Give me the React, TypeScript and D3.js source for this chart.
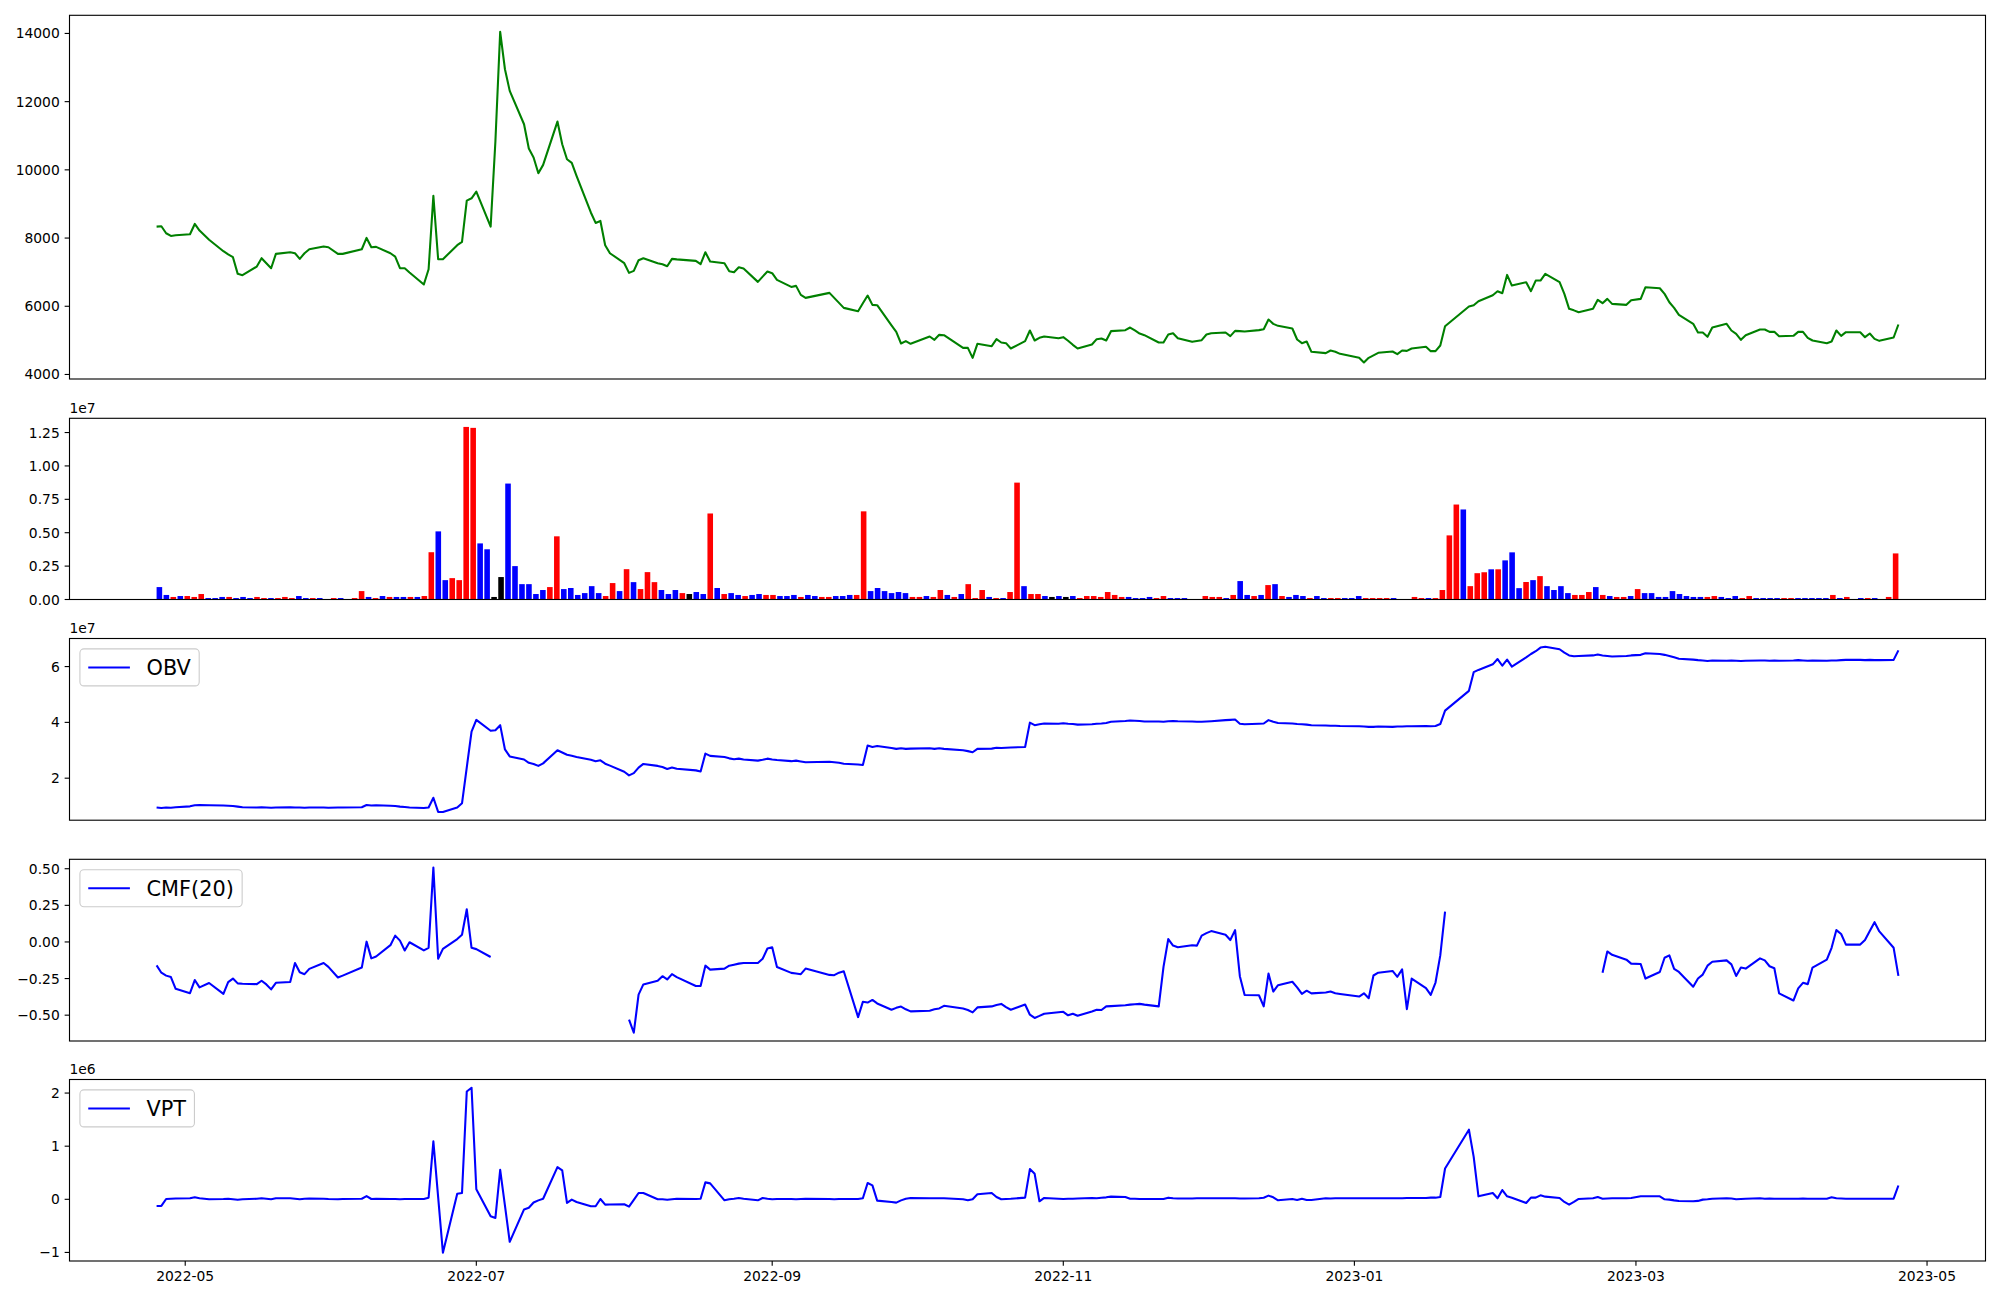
import React from "react";
import * as d3 from "d3";

// ---------------- DATA ----------------
// KRX non-trading weekdays in the range
const HOLIDAYS = [
  "2022-05-05", "2022-06-01", "2022-06-06", "2022-08-15", "2022-09-09", "2022-09-12",
  "2022-10-03", "2022-10-10", "2022-12-30", "2023-01-23", "2023-01-24", "2023-03-01",
];
const FIRST_DAY = "2022-04-25";
const LAST_DAY = "2023-04-25";

// Close price, one value per trading day
const PRICE = [
  8336, 8346, 8141, 8063, 8080,
  8112, 8414, 8219, 7950,
  7614, 7520, 7438, 6950, 6911,
  7165, 7409, 7260, 7116, 7536,
  7585, 7555, 7389, 7555, 7672,
  7750, 7731, 7536, 7536,
  7672, 8004, 7731, 7741,
  7555, 7458, 7116, 7116, 6990,
  6638, 7087, 9236, 7380, 7380,
  7790, 7887, 9098, 9166, 9361,
  8336, 10840, 14047, 12950, 12315,
  11338, 10625, 10361, 9902, 10146,
  11416, 10752, 10312, 10205, 9824,
  8750, 8444, 8502, 7790, 7555,
  7262, 6979, 7038, 7350, 7409,
  7262, 7233, 7175, 7390, 7375,
  7331, 7233, 7584, 7311,
  7262, 7027, 6998, 7145, 7105,
  6715, 6870, 7018, 6969, 6774,
  6568, 6598, 6334, 6246,
  6393, 6246, 6100, 5953,
  5856, 6090, 6315, 6041, 6031,
  5440, 5250, 4908, 4977, 4899,
  5113, 5016, 5162, 5152,
  4781, 4781, 4488, 4899,
  4830, 5035, 4938, 4918, 4762,
  4977, 5289, 4996, 5074, 5113,
  5064, 5094, 4990, 4870, 4762,
  4879, 5035, 5055, 4996, 5270,
  5299, 5377, 5290, 5200, 5152,
  4938, 4938, 5172, 5211, 5064,
  4957, 4980, 5006, 5172, 5211,
  5231, 5123, 5279, 5270, 5260,
  5300, 5328, 5611, 5484, 5426,
  5348, 5025, 4918, 4967, 4664,
  4625, 4703, 4664, 4605,
  4488, 4352, 4488, 4560, 4635,
  4674, 4596, 4703, 4693, 4762,
  4811, 4684, 4684, 4850, 5416,
  5992, 6031, 6149,
  6324, 6442, 6383, 6920, 6607,
  6705, 6442, 6754, 6754, 6949,
  6705, 6363, 5924, 5880, 5826,
  5924, 6188, 6090, 6217, 6070,
  6041, 6178, 6217, 6559,
  6529, 6363, 6119, 5953, 5748,
  5484, 5230, 5230, 5104, 5377,
  5484, 5289, 5191, 5016, 5152,
  5318, 5318, 5250, 5250, 5123,
  5133, 5250, 5250, 5074, 4996,
  4918, 4967, 5289, 5133, 5240,
  5240, 5094, 5201, 5045, 4986,
  5084, 5465,
];

// Volume in millions of shares
const VOLUME_M = [
  0.93, 0.34, 0.19, 0.26, 0.26,
  0.19, 0.41, 0.11, 0.11,
  0.19, 0.19, 0.11, 0.19, 0.11,
  0.19, 0.11, 0.11, 0.11, 0.19,
  0.11, 0.26, 0.11, 0.11, 0.11,
  0.03, 0.11, 0.11, 0.03,
  0.11, 0.63, 0.19, 0.11,
  0.26, 0.19, 0.19, 0.19, 0.19,
  0.19, 0.26, 3.54, 5.10, 1.45,
  1.60, 1.45, 12.92, 12.85, 4.20,
  3.76, 0.19, 1.68, 8.68, 2.50,
  1.15, 1.15, 0.41, 0.71, 0.93,
  4.73, 0.78, 0.86, 0.34, 0.48,
  1.00, 0.48, 0.26, 1.23, 0.63,
  2.27, 1.30, 0.78, 2.05, 1.30,
  0.71, 0.41, 0.71, 0.48, 0.41,
  0.56, 0.41, 6.44, 0.86,
  0.41, 0.48, 0.34, 0.26, 0.34,
  0.41, 0.34, 0.34, 0.26, 0.26,
  0.34, 0.19, 0.34, 0.26,
  0.19, 0.19, 0.26, 0.26,
  0.34, 0.34, 6.60, 0.63, 0.86,
  0.63, 0.48, 0.56, 0.48, 0.19,
  0.19, 0.26, 0.19, 0.71,
  0.34, 0.19, 0.41, 1.15,
  0.11, 0.71, 0.19, 0.11, 0.11,
  0.56, 8.75, 1.00, 0.41, 0.41,
  0.26, 0.19, 0.26, 0.19, 0.26,
  0.11, 0.26, 0.26, 0.19, 0.56,
  0.34, 0.19, 0.19, 0.11, 0.11,
  0.19, 0.11, 0.26, 0.11, 0.11,
  0.11, 0.03, 0.03, 0.26, 0.19,
  0.19, 0.11, 0.34, 1.38, 0.34,
  0.26, 0.34, 1.08, 1.15, 0.26,
  0.19, 0.34, 0.26, 0.11, 0.26,
  0.11, 0.11, 0.11, 0.11,
  0.11, 0.26, 0.11, 0.11, 0.11,
  0.11, 0.11, 0.02, 0.02, 0.19,
  0.11, 0.11, 0.11, 0.71, 4.80,
  7.11, 6.74, 1.00,
  1.97, 2.04, 2.26, 2.26, 2.93,
  3.53, 0.85, 1.31, 1.45, 1.75,
  1.00, 0.71, 1.00, 0.48, 0.34,
  0.34, 0.56, 0.93, 0.34, 0.26,
  0.19, 0.19, 0.26, 0.78,
  0.48, 0.48, 0.19, 0.19, 0.63,
  0.41, 0.26, 0.19, 0.19, 0.19,
  0.26, 0.19, 0.11, 0.26, 0.11,
  0.26, 0.11, 0.11, 0.11, 0.11,
  0.11, 0.11, 0.11, 0.11, 0.11,
  0.11, 0.11, 0.34, 0.11, 0.19,
  0.03, 0.11, 0.11, 0.11, 0.03,
  0.19, 3.45,
];

// Candle direction per day: R = up, B = down, K = unchanged
const BAR_DIR = (
  "BBRBR RRBB BRBBB RRBRR RBBRB BRBR RRBR BRBBR BRRBB RRRRB BKKBB BBBBR RBBBB BBRRB " +
  "RBRRR BBBRK BBRB RBBRB BRRBB BRBB RRBB BRRBB BBBBR RBRR BRBR RRBRB RRBRR BKBKB " +
  "RRRRR RRBBB BRRBB BBRRR RBRBB RBRBR BBBRB BRRB BBRRR RBBRR RBRRR RBR RRBRB BBRBR " +
  "BBBBR RRBRB RRBR BBBBB BBBBR RBBBR RBBBB RRBBB BBRBR RBRBB RR"
).replace(/ /g, "").split("");

// On-balance volume (×1e7)
const OBV_E7 = [
  0.95, 0.93, 0.95, 0.94, 0.96,
  0.99, 1.03, 1.04, 1.03,
  1.02, 1.01, 1.00, 0.98, 0.96,
  0.95, 0.96, 0.95, 0.94, 0.95,
  0.96, 0.95, 0.95, 0.94, 0.95,
  0.95, 0.94, 0.95, 0.95,
  0.96, 1.04, 1.02, 1.03,
  1.01, 1.00, 0.98, 0.97, 0.95,
  0.93, 0.95, 1.30, 0.79, 0.79,
  0.95, 1.10, 2.39, 3.67, 4.09,
  3.70, 3.72, 3.90, 3.03, 2.78,
  2.67, 2.55, 2.51, 2.44, 2.53,
  3.00, 2.92, 2.84, 2.80, 2.76,
  2.66, 2.61, 2.64, 2.52, 2.45,
  2.23, 2.10, 2.18, 2.38, 2.51,
  2.44, 2.40, 2.33, 2.38, 2.34,
  2.28, 2.24, 2.88, 2.80,
  2.76, 2.71, 2.68, 2.70, 2.67,
  2.63, 2.66, 2.70, 2.67, 2.65,
  2.61, 2.63, 2.60, 2.57,
  2.59, 2.57, 2.55, 2.52,
  2.49, 2.47, 3.17, 3.12, 3.15,
  3.08, 3.05, 3.07, 3.05, 3.06,
  3.07, 3.05, 3.07, 3.05,
  3.00, 2.97, 2.93, 3.05,
  3.06, 3.09, 3.08, 3.09, 3.10,
  3.12, 3.99, 3.90, 3.93, 3.96,
  3.95, 3.97, 3.95, 3.94, 3.92,
  3.93, 3.95, 3.96, 3.98, 4.02,
  4.05, 4.07, 4.06, 4.05, 4.03,
  4.03, 4.02, 4.04, 4.05, 4.04,
  4.03, 4.02, 4.02, 4.03, 4.04,
  4.08, 4.09, 4.10, 3.95, 3.93,
  3.95, 3.96, 4.08, 4.02, 3.98,
  3.96, 3.94, 3.93, 3.92, 3.90,
  3.89, 3.88, 3.88, 3.87,
  3.86, 3.85, 3.84, 3.84, 3.85,
  3.84, 3.85, 3.85, 3.86, 3.86,
  3.87, 3.86, 3.87, 3.94, 4.42,
  5.13, 5.80, 5.88,
  6.08, 6.27, 6.03, 6.25, 6.00,
  6.33, 6.45, 6.55, 6.68, 6.71,
  6.62, 6.50, 6.40, 6.37, 6.38,
  6.40, 6.43, 6.40, 6.38, 6.36,
  6.38, 6.40, 6.42, 6.48,
  6.45, 6.42, 6.38, 6.33, 6.28,
  6.25, 6.23, 6.22, 6.20, 6.22,
  6.21, 6.22, 6.21, 6.20, 6.21,
  6.22, 6.22, 6.21, 6.22, 6.21,
  6.22, 6.23, 6.22, 6.21, 6.22,
  6.21, 6.22, 6.22, 6.23, 6.24,
  6.24, 6.23, 6.24, 6.23, 6.23,
  6.24, 6.58,
];

// Chaikin money flow, 20 days (null = not defined)
const CMF20 = [
  -0.16, -0.21, -0.23, -0.24, -0.32,
  -0.35, -0.26, -0.31, -0.28,
  -0.355, -0.274, -0.25, -0.283, -0.285,
  -0.288, -0.265, -0.29, -0.324, -0.279,
  -0.274, -0.144, -0.207, -0.22, -0.184,
  -0.144, -0.17, -0.243, -0.23,
  -0.175, 0.002, -0.112, -0.099,
  -0.022, 0.043, 0.009, -0.058, -0.002,
  -0.058, -0.04, 0.508, -0.115, -0.047,
  0.02, 0.049, 0.223, -0.04, -0.049,
  -0.103, null, null, null, null,
  null, null, null, null, null,
  null, null, null, null, null,
  null, null, null, null, null,
  null, -0.53, -0.62, -0.36, -0.29,
  -0.265, -0.234, -0.256, -0.22, -0.24,
  -0.301, -0.301, -0.162, -0.189,
  -0.182, -0.162, -0.155, -0.148, -0.144,
  -0.144, -0.115, -0.045, -0.036, -0.171,
  -0.211, -0.215, -0.22, -0.182,
  -0.225, -0.227, -0.21, -0.2,
  -0.513, -0.409, -0.414, -0.396, -0.42,
  -0.463, -0.45, -0.441, -0.46, -0.474,
  -0.47, -0.46, -0.454, -0.436,
  -0.455, -0.465, -0.481, -0.447,
  -0.44, -0.43, -0.423, -0.445, -0.463,
  -0.427, -0.497, -0.519, -0.505, -0.49,
  -0.48, -0.477, -0.501, -0.49, -0.504,
  -0.475, -0.463, -0.465, -0.44, -0.438,
  -0.432, -0.428, -0.425, -0.423, -0.428,
  -0.44, -0.17, 0.02, -0.025, -0.036,
  -0.022, -0.025, 0.043, 0.06, 0.074,
  0.049, 0.013, 0.081, -0.234, -0.362,
  -0.364, -0.44, -0.216, -0.339, -0.295,
  -0.272, -0.31, -0.355, -0.333, -0.351,
  -0.345, -0.339, -0.35, -0.355,
  -0.373, -0.351, -0.384, -0.229, -0.21,
  -0.198, -0.238, -0.187, -0.459, -0.25,
  -0.315, -0.362, -0.277, -0.092, 0.207,
  null, null, null,
  null, null, null, null, null,
  null, null, null, null, null,
  null, null, null, null, null,
  null, null, -0.211, -0.065, -0.088,
  -0.121, -0.148, -0.151, -0.25,
  -0.205, -0.108, -0.092, -0.184, -0.205,
  -0.306, -0.25, -0.223, -0.162, -0.135,
  -0.126, -0.153, -0.232, -0.175, -0.182,
  -0.112, -0.126, -0.166, -0.18, -0.351,
  -0.4, -0.317, -0.279, -0.288, -0.175,
  -0.121, -0.04, 0.081, 0.054, -0.018,
  -0.018, 0.013, 0.074, 0.135, 0.072,
  -0.04, -0.232,
];

// Volume price trend (×1e6)
const VPT_E6 = [
  -0.125, -0.125, 0.006, 0.01, 0.015,
  0.02, 0.04, 0.02, 0.0,
  0.005, 0.01, 0.0, -0.01, 0.0,
  0.01, 0.02, 0.01, 0.0, 0.02,
  0.02, 0.01, 0.0, 0.01, 0.015,
  0.01, 0.005, 0.0, 0.005,
  0.01, 0.06, 0.006, 0.01,
  0.005, 0.006, 0.0, 0.006, 0.005,
  0.006, 0.03, 1.09, 0.04, -1.006,
  0.106, 0.12, 2.03, 2.1, 0.19,
  -0.32, -0.35, 0.556, -0.12, -0.8,
  -0.19, -0.16, -0.06, -0.02, 0.01,
  0.606, 0.544, -0.069, -0.006, -0.05,
  -0.131, -0.131, 0.006, -0.1, -0.097,
  -0.094, -0.137, -0.01, 0.119, 0.119,
  0.0, 0.0, -0.01, 0.0, 0.01,
  0.006, 0.012, 0.319, 0.3,
  -0.019, 0.0, 0.01, 0.025, 0.01,
  -0.019, 0.025, 0.01, 0.0, 0.006,
  0.006, 0.0, 0.006, 0.01,
  0.006, 0.0, 0.006, 0.006,
  0.006, 0.019, 0.306, 0.262, -0.025,
  -0.05, -0.062, -0.02, 0.01, 0.025,
  0.02, 0.02, 0.019, 0.019,
  0.0, -0.019, 0.0, 0.094,
  0.119, 0.044, 0.0, 0.005, 0.01,
  0.031, 0.569, 0.48, -0.037, 0.025,
  0.01, 0.006, 0.01, 0.012, 0.015,
  0.025, 0.02, 0.03, 0.037, 0.05,
  0.044, 0.012, 0.01, 0.006, 0.006,
  0.006, 0.006, 0.031, 0.02, 0.015,
  0.015, 0.019, 0.019, 0.019, 0.02,
  0.02, 0.019, 0.019, 0.015, 0.015,
  0.019, 0.03, 0.069, 0.037, -0.019,
  0.006, -0.012, 0.012, -0.012, -0.012,
  0.019, 0.015, 0.019, 0.019,
  0.019, 0.019, 0.019, 0.019, 0.019,
  0.019, 0.02, 0.02, 0.025, 0.025,
  0.025, 0.031, 0.031, 0.044, 0.58,
  1.31, 0.8, 0.056,
  0.119, 0.019, 0.175, 0.056, 0.03,
  -0.069, 0.031, 0.031, 0.075, 0.05,
  0.025, -0.05, -0.1, -0.05, 0.006,
  0.019, 0.044, 0.012, 0.015, 0.019,
  0.019, 0.025, 0.056, 0.056,
  0.056, 0.0, -0.006, -0.02, -0.031,
  -0.037, -0.03, -0.006, 0.0, 0.01,
  0.019, 0.015, 0.0, 0.005, 0.01,
  0.019, 0.012, 0.015, 0.012, 0.012,
  0.012, 0.012, 0.015, 0.012, 0.012,
  0.012, 0.037, 0.019, 0.015, 0.012,
  0.012, 0.012, 0.012, 0.012, 0.012,
  0.012, 0.26,
];

const DATE_TICKS = ["2022-05", "2022-07", "2022-09", "2022-11", "2023-01", "2023-03", "2023-05"];
const PRICE_TICKS = [4000, 6000, 8000, 10000, 12000, 14000];
const VOL_TICKS_E7 = [0, 0.25, 0.5, 0.75, 1.0, 1.25];
const OBV_TICKS = [2, 4, 6];
const CMF_TICKS = [-0.5, -0.25, 0, 0.25, 0.5];
const VPT_TICKS = [-1, 0, 1, 2];

// ---------------- LAYOUT ----------------
const FIG_W = 2000;
const FIG_H = 1300;
const AX_L = 69.5;
const AX_R = 1985.5;
const PANELS = [
  { top: 15.3, bottom: 379.0 },
  { top: 418.3, bottom: 599.5 },
  { top: 638.5, bottom: 820.2 },
  { top: 859.3, bottom: 1041.0 },
  { top: 1079.5, bottom: 1261.0 },
];
const FONT = "'DejaVu Sans', sans-serif";
const TICK_FS = 13.89;
const LEG_FS = 20.83;
const TICK_LEN = 4.86;
const TICK_PAD = 4.86;
const SPINE_W = 1.11;
const LINE_W = 2.08;

const fmtDay = d3.utcFormat("%Y-%m-%d");
const parseDay = d3.utcParse("%Y-%m-%d");
const parseMonth = d3.utcParse("%Y-%m");

const ALL_DATES = d3.utcDay
  .range(parseDay(FIRST_DAY) as Date, d3.utcDay.offset(parseDay(LAST_DAY) as Date, 1))
  .filter((d) => {
    const w = d.getUTCDay();
    return w !== 0 && w !== 6 && !HOLIDAYS.includes(fmtDay(d));
  });

const N = Math.min(ALL_DATES.length, PRICE.length);
const DATES = ALL_DATES.slice(0, N);

function paddedExtent(vals: (number | null)[]): [number, number] {
  const v = vals.filter((x) => x != null && !isNaN(x as number)) as number[];
  const lo = d3.min(v) as number;
  const hi = d3.max(v) as number;
  const m = (hi - lo) * 0.05;
  return [lo - m, hi + m];
}

const minus = (s: string) => s.replace("-", "\u2212");

function measure(text: string, size: number): number {
  try {
    const c = document.createElement("canvas").getContext("2d");
    if (c) {
      c.font = `${size}px 'DejaVu Sans'`;
      return c.measureText(text).width;
    }
  } catch (e) {}
  return text.length * size * 0.62;
}

function YTicks({ scale, ticks, fmt }: { scale: any; ticks: number[]; fmt: (v: number) => string }) {
  return (
    <g>
      {ticks.map((t) => {
        const y = scale(t);
        return (
          <g key={t}>
            <line x1={AX_L - TICK_LEN} x2={AX_L} y1={y} y2={y} stroke="black" strokeWidth={SPINE_W} />
            <text
              x={AX_L - TICK_LEN - TICK_PAD}
              y={y + TICK_FS * 0.36}
              textAnchor="end"
              fontSize={TICK_FS}
              fill="black"
            >
              {fmt(t)}
            </text>
          </g>
        );
      })}
    </g>
  );
}

function Frame({ top, bottom }: { top: number; bottom: number }) {
  return (
    <rect
      x={AX_L}
      y={top}
      width={AX_R - AX_L}
      height={bottom - top}
      fill="none"
      stroke="black"
      strokeWidth={SPINE_W}
    />
  );
}

function Legend({ top, label, color }: { top: number; label: string; color: string }) {
  const pad = 0.4 * LEG_FS;
  const handle = 2.0 * LEG_FS;
  const gap = 0.8 * LEG_FS;
  const tw = measure(label, LEG_FS);
  const x = AX_L + 0.5 * LEG_FS;
  const y = top + 0.5 * LEG_FS;
  const w = pad + handle + gap + tw + pad;
  const h = 37;
  const cy = y + h / 2;
  return (
    <g>
      <rect x={x} y={y} width={w} height={h} rx={4} ry={4} fill="white" fillOpacity={0.8} stroke="#cccccc" strokeWidth={1.1} />
      <line x1={x + pad} x2={x + pad + handle} y1={cy} y2={cy} stroke={color} strokeWidth={LINE_W} />
      <text x={x + pad + handle + gap} y={cy + LEG_FS * 0.36} fontSize={LEG_FS} fill="black">
        {label}
      </text>
    </g>
  );
}

function OffsetText({ top, text }: { top: number; text: string }) {
  return (
    <text x={AX_L} y={top - 5.6} fontSize={TICK_FS} fill="black">
      {text}
    </text>
  );
}

export default function App() {
  const t0 = DATES[0].getTime();
  const t1 = DATES[N - 1].getTime();
  const span = t1 - t0;
  const xDate = d3
    .scaleUtc()
    .domain([new Date(t0 - 0.05 * span), new Date(t1 + 0.05 * span)])
    .range([AX_L, AX_R]);

  const wIdx = N - 0.2;
  const xIdx = d3
    .scaleLinear()
    .domain([-0.4 - 0.05 * wIdx, N - 1 + 0.4 + 0.05 * wIdx])
    .range([AX_L, AX_R]);
  const barW = xIdx(0.8) - xIdx(0);

  const [p1, p2, p3, p4, p5] = PANELS;
  const price = PRICE.slice(0, N);
  const vol = VOLUME_M.slice(0, N);
  const obv = OBV_E7.slice(0, N);
  const cmf = CMF20.slice(0, N);
  const vpt = VPT_E6.slice(0, N);

  const yPrice = d3.scaleLinear().domain(paddedExtent(price)).range([p1.bottom, p1.top]);
  const yVol = d3.scaleLinear().domain([0, (d3.max(vol) as number) * 1.05]).range([p2.bottom, p2.top]);
  const yObv = d3.scaleLinear().domain(paddedExtent(obv)).range([p3.bottom, p3.top]);
  const yCmf = d3.scaleLinear().domain(paddedExtent(cmf)).range([p4.bottom, p4.top]);
  const yVpt = d3.scaleLinear().domain(paddedExtent(vpt)).range([p5.bottom, p5.top]);

  const mkLine = (ys: any) =>
    d3
      .line<number | null>()
      .defined((d) => d != null && !isNaN(d as number))
      .x((_, i) => xDate(DATES[i]))
      .y((d) => ys(d as number));

  const colorOf: Record<string, string> = { R: "#ff0000", B: "#0000ff", K: "#000000" };

  return (
    <svg
      width={FIG_W}
      height={FIG_H}
      viewBox={`0 0 ${FIG_W} ${FIG_H}`}
      style={{ position: "absolute", left: 0, top: 0, background: "white" }}
      fontFamily={FONT}
    >
      <rect x={0} y={0} width={FIG_W} height={FIG_H} fill="white" />

      {/* Panel 1: price */}
      <path d={mkLine(yPrice)(price) || ""} fill="none" stroke="#008000" strokeWidth={LINE_W} strokeLinejoin="round" />
      <YTicks scale={yPrice} ticks={PRICE_TICKS} fmt={(v) => String(v)} />
      <Frame top={p1.top} bottom={p1.bottom} />

      {/* Panel 2: volume bars */}
      {vol.map((v, i) => {
        const y = yVol(v);
        return (
          <rect
            key={i}
            x={xIdx(i) - barW / 2}
            y={y}
            width={barW}
            height={Math.max(0, p2.bottom - y)}
            fill={colorOf[BAR_DIR[i]] || "#0000ff"}
          />
        );
      })}
      <YTicks scale={(t: number) => yVol(t * 10)} ticks={VOL_TICKS_E7} fmt={(v) => v.toFixed(2)} />
      <Frame top={p2.top} bottom={p2.bottom} />
      <OffsetText top={p2.top} text="1e7" />

      {/* Panel 3: OBV */}
      <path d={mkLine(yObv)(obv) || ""} fill="none" stroke="#0000ff" strokeWidth={LINE_W} strokeLinejoin="round" />
      <YTicks scale={yObv} ticks={OBV_TICKS} fmt={(v) => String(v)} />
      <Frame top={p3.top} bottom={p3.bottom} />
      <OffsetText top={p3.top} text="1e7" />
      <Legend top={p3.top} label="OBV" color="#0000ff" />

      {/* Panel 4: CMF */}
      <path d={mkLine(yCmf)(cmf) || ""} fill="none" stroke="#0000ff" strokeWidth={LINE_W} strokeLinejoin="round" />
      <YTicks scale={yCmf} ticks={CMF_TICKS} fmt={(v) => minus(v.toFixed(2))} />
      <Frame top={p4.top} bottom={p4.bottom} />
      <Legend top={p4.top} label="CMF(20)" color="#0000ff" />

      {/* Panel 5: VPT */}
      <path d={mkLine(yVpt)(vpt) || ""} fill="none" stroke="#0000ff" strokeWidth={LINE_W} strokeLinejoin="round" />
      <YTicks scale={yVpt} ticks={VPT_TICKS} fmt={(v) => minus(String(v))} />
      <Frame top={p5.top} bottom={p5.bottom} />
      <OffsetText top={p5.top} text="1e6" />
      <Legend top={p5.top} label="VPT" color="#0000ff" />

      {/* Date axis */}
      {DATE_TICKS.map((m) => {
        const x = xDate(parseMonth(m) as Date);
        return (
          <g key={m}>
            <line x1={x} x2={x} y1={p5.bottom} y2={p5.bottom + TICK_LEN} stroke="black" strokeWidth={SPINE_W} />
            <text x={x} y={p5.bottom + TICK_LEN + TICK_PAD + TICK_FS * 0.76} textAnchor="middle" fontSize={TICK_FS} fill="black">
              {m}
            </text>
          </g>
        );
      })}
    </svg>
  );
}
